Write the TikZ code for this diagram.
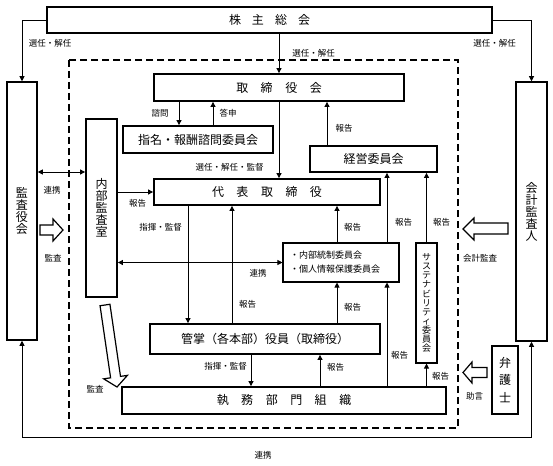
\documentclass[tikz,border=0pt]{standalone}
\usepackage{fontspec}
\setmainfont{Noto Sans CJK JP}
\usetikzlibrary{arrows.meta}
\newcommand{\gapj}{\hspace{12.5pt}}
\begin{document}
\begin{tikzpicture}[x=1pt,y=-1pt,
  box/.style={draw, line width=1.8pt, inner sep=0pt, align=center, font=\fontsize{12}{12}\selectfont},
  tbox/.style={draw, line width=1.1pt, inner sep=0pt, align=center},
  conn/.style={line width=0.9pt, -{Triangle[length=5pt,width=5pt]}},
  dconn/.style={line width=0.9pt, {Triangle[length=5pt,width=5pt]}-{Triangle[length=5pt,width=5pt]}},
  lbl/.style={font=\fontsize{8.5}{9}\selectfont, inner sep=0pt},
  hollow/.style={draw, line width=1.2pt, fill=white, line join=miter},
  dashbox/.style={draw, line width=1.8pt, dash pattern=on 7pt off 4pt}
]
\useasboundingbox (0,0) rectangle (553,465);

% dashed company frame
\draw[dashbox] (69,60) rectangle (458,428);

% boxes
\node[box, minimum width=445pt, minimum height=26pt] (sh) at (269.5,20) {株\hspace{11pt}主\hspace{11pt}総\hspace{11pt}会};
\node[box, line width=1.5pt, minimum width=30pt, minimum height=258pt] (kansa) at (22,211) {監\\査\\役\\会};
\node[box, line width=1.5pt, minimum width=31pt, minimum height=259pt] (kaikei) at (531.5,211.5) {会\\計\\監\\査\\人};
\node[box, minimum width=250pt, minimum height=27pt] (tori) at (279,87.5) {取\gapj 締\gapj 役\gapj 会};
\node[box, minimum width=150pt, minimum height=27pt] (shimei) at (198,139.5) {指名・報酬諮問委員会};
\node[box, minimum width=127pt, minimum height=26pt] (keiei) at (373.5,159) {経営委員会};
\node[box, minimum width=226pt, minimum height=26pt] (daihyo) at (267,192) {代\gapj 表\gapj 取\gapj 締\gapj 役};
\node[box, minimum width=31pt, minimum height=178pt] (naibu) at (101.5,208) {内\\部\\監\\査\\室};
\node[tbox, minimum width=116pt, minimum height=39pt] (tousei) at (341,262.5) {};
\node[lbl, font=\fontsize{9}{14}\selectfont, align=left, anchor=west] (touseitxt) at (290,262.5) {・内部統制委員会\\・個人情報保護委員会};
\node[tbox, minimum width=21pt, minimum height=120pt, font=\fontsize{9}{9.1}\selectfont] (sus) at (426.5,303) {サ\\ス\\テ\\ナ\\ビ\\リ\\テ\\ィ\\委\\員\\会};
\node[box, minimum width=230pt, minimum height=30pt] (kansho) at (265,339) {管掌（各本部）役員（取締役）};
\node[box, minimum width=324pt, minimum height=27pt] (shitsumu) at (284,400.5) {執\gapj 務\gapj 部\gapj 門\gapj 組\gapj 織};
\node[box, minimum width=26pt, minimum height=68pt, font=\fontsize{12}{17.5}\selectfont] (bengo) at (505,380) {弁\\護\\士};

% helper columns / rows
\coordinate (x179) at (179,0);
\coordinate (x213) at (213,0);
\coordinate (x327) at (327,0);
\coordinate (x188) at (188,0);
\coordinate (x232) at (232,0);
\coordinate (x337) at (337,0);
\coordinate (x387) at (387,0);
\coordinate (x251) at (251,0);
\coordinate (x320) at (320,0);
\coordinate (y172) at (0,172);
\coordinate (y437) at (0,437);

% connectors
\draw[conn] (sh.west) -| (kansa.north);
\draw[conn] (sh.east) -| (kaikei.north);
\draw[conn] (sh.south -| tori.north) -- (tori.north);
\draw[conn] (tori.south -| x179) -- (shimei.north -| x179);
\draw[conn] (shimei.north -| x213) -- (tori.south -| x213);
\draw[conn] (tori.south) -- (daihyo.north -| tori.south);
\draw[conn] (keiei.north -| x327) -- (tori.south -| x327);
\draw[dconn] (kansa.east |- y172) -- (naibu.west |- y172);
\draw[conn] (naibu.east |- daihyo.west) -- (daihyo.west);
\draw[conn] (daihyo.south -| x188) -- (kansho.north -| x188);
\draw[conn] (kansho.north -| x232) -- (daihyo.south -| x232);
\draw[dconn] (naibu.east |- tousei.west) -- (tousei.west);
\draw[conn] (tousei.north -| x337) -- (daihyo.south -| x337);
\draw[conn] (tousei.north -| x387) -- (keiei.south -| x387);
\draw[conn] (sus.north) -- (keiei.south -| sus.north);
\draw[conn] (kansho.north -| x337) -- (tousei.south -| x337);
\draw[conn] (shitsumu.north -| x387) -- (tousei.south -| x387);
\draw[conn] (kansho.south -| x251) -- (shitsumu.north -| x251);
\draw[conn] (shitsumu.north -| x320) -- (kansho.south -| x320);
\draw[conn] (shitsumu.north -| sus.south) -- (sus.south);
\draw[dconn] (kansa.south) |- (kaikei.south |- y437) -- (kaikei.south);

% hollow arrows
\draw[hollow] (40,225) -- (53,225) -- (53,219) -- (63,230) -- (53,241) -- (53,235) -- (40,235) -- cycle;
\draw[hollow] (508,223) -- (474,223) -- (474,218) -- (463,229) -- (474,240) -- (474,234) -- (508,234) -- cycle;
\draw[hollow] (487,367.5) -- (472,367.5) -- (472,362) -- (463,372.5) -- (472,383) -- (472,377.5) -- (487,377.5) -- cycle;
\draw[hollow] (100.05,305.72) -- (110.6,377.82) -- (103.68,378.84) -- (117,387) -- (127.42,375.36) -- (120.5,376.38) -- (109.95,304.28) -- cycle;

% labels
\node[lbl] (l1) at (50,43) {選任・解任};
\node[lbl] (l2) at (494.5,43) {選任・解任};
\node[lbl] (l3) at (313.5,53) {選任・解任};
\node[lbl] (l4) at (160,113) {諮問};
\node[lbl] (l5) at (228,113) {答申};
\node[lbl] (l6) at (229.5,167) {選任・解任・監督};
\node[lbl] (l7) at (344,128) {報告};
\node[lbl] (l8) at (52,190) {連携};
\node[lbl] (l9) at (137.5,203) {報告};
\node[lbl] (l10) at (160.5,227) {指揮・監督};
\node[lbl] (l11) at (247.5,304) {報告};
\node[lbl] (l12) at (258,273) {連携};
\node[lbl] (l13) at (352.5,227) {報告};
\node[lbl] (l14) at (403.5,222) {報告};
\node[lbl] (l15) at (441.5,222) {報告};
\node[lbl] (l16) at (352.5,307) {報告};
\node[lbl] (l17) at (399.5,355) {報告};
\node[lbl] (l18) at (225.5,366) {指揮・監督};
\node[lbl] (l19) at (335.5,367) {報告};
\node[lbl] (l20) at (440.5,376) {報告};
\node[lbl] (l21) at (53,258) {監査};
\node[lbl] (l22) at (480,258) {会計監査};
\node[lbl] (l23) at (474.5,396) {助言};
\node[lbl] (l24) at (95,389) {監査};
\node[lbl] (l25) at (263,455.5) {連携};
\end{tikzpicture}
\end{document}
